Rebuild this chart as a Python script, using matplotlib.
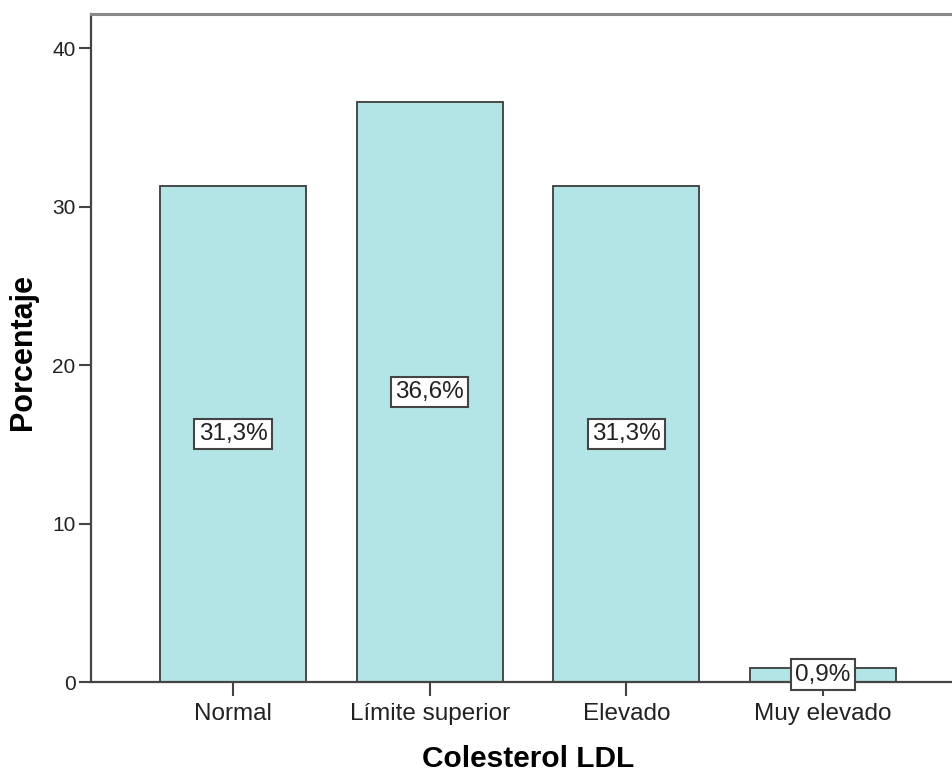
import matplotlib
matplotlib.use("Agg")
import matplotlib.pyplot as plt

categories = ["Normal", "Límite superior", "Elevado", "Muy elevado"]
values = [31.3, 36.6, 31.3, 0.9]
labels = ["31,3%", "36,6%", "31,3%", "0,9%"]
yticks = [0, 10, 20, 30, 40]

plt.rcParams['font.family'] = ['Liberation Sans', 'DejaVu Sans']

fig = plt.figure(figsize=(9.53, 7.74), dpi=100)
ax = fig.add_axes([91/953, 1-682/774, 1-91/953, (682-14)/774])

x = list(range(len(categories)))
ax.bar(x, values, width=0.742, color="#b3e5e6", edgecolor="#3c3c3c", linewidth=1.3, zorder=2)

for xi, v, lab in zip(x, values, labels):
    ax.text(xi, v/2, lab, ha="center", va="center", fontsize=17.5, color="#222222",
            bbox=dict(boxstyle="square,pad=0.18", facecolor="white", edgecolor="#444444", linewidth=1.5),
            zorder=3)

ax.set_xlim(-0.722, 3.66)
ax.set_ylim(0, 42.15)
ax.set_xticks(x)
ax.set_xticklabels(categories, fontsize=17.5, color="#222222")
ax.set_yticks(yticks)
ax.set_yticklabels([str(t) for t in yticks], fontsize=15, color="#222222")
ax.tick_params(axis="x", length=10, width=1.5, color="#444444", pad=5)
ax.tick_params(axis="y", length=9, width=1.5, color="#444444", pad=2)

for s in ["left", "bottom"]:
    ax.spines[s].set_color("#444444")
    ax.spines[s].set_linewidth(1.6)
ax.spines["top"].set_color("#888888")
ax.spines["top"].set_linewidth(2.2)
ax.spines["right"].set_visible(False)

ax.set_xlabel("Colesterol LDL", fontsize=21.5, fontweight="bold", va="center")
ax.xaxis.set_label_coords((528.5-91)/862, -(759-682)/668)
ax.set_ylabel("Porcentaje", fontsize=22, fontweight="bold", va="center")
ax.yaxis.set_label_coords(-(91-22.5)/862, (682-352)/668)

fig.savefig("out.png", dpi=100)
